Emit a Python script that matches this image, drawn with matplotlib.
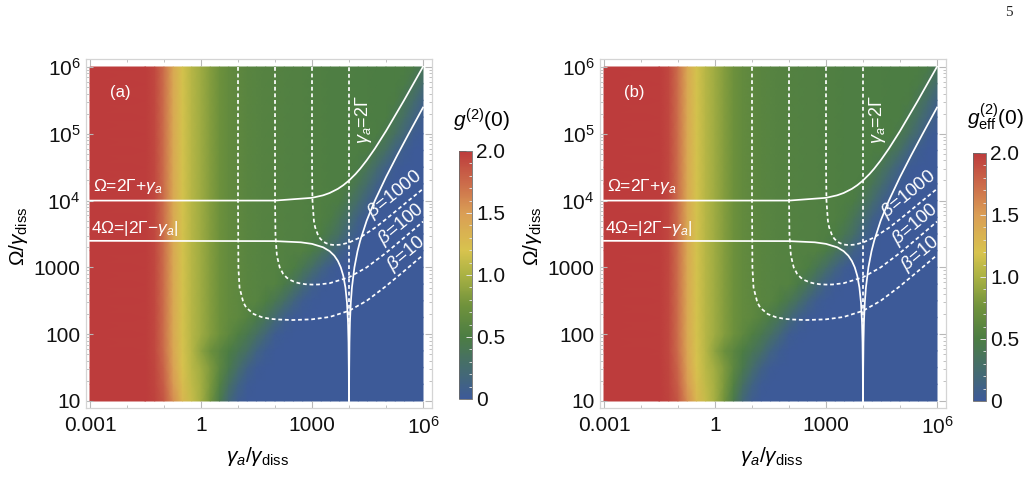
import numpy as np
import matplotlib
matplotlib.use('Agg')
import matplotlib.pyplot as plt
from matplotlib.colors import LinearSegmentedColormap, Normalize
from matplotlib.ticker import FixedLocator, NullFormatter
import matplotlib.cm as cm

plt.rcParams['font.family'] = ['Liberation Sans', 'DejaVu Sans']
plt.rcParams['mathtext.fontset'] = 'custom'
plt.rcParams['mathtext.rm'] = 'Liberation Sans'
plt.rcParams['mathtext.it'] = 'Liberation Sans:italic'
plt.rcParams['mathtext.bf'] = 'Liberation Sans:bold'

# ---------------- data ----------------
# grid nodes: log10(gamma_a/gamma_diss) and log10(Omega/gamma_diss)
ga_exp = [-3, -1.5, -1.25, -1, -0.75, -0.5, -0.25, 0, 0.25, 0.5, 0.75, 1, 1.25, 1.5, 1.75, 2,
          2.25, 2.5, 2.75, 3, 3.25, 3.5, 3.75, 4, 4.25, 4.5, 4.75, 5, 5.25, 5.5, 5.75, 6]
om_exp = [1, 1.25, 1.5, 1.75, 2, 2.25, 2.5, 2.75, 3, 3.25, 3.5, 3.75, 4, 4.25, 4.5, 4.75,
          5, 5.25, 5.5, 5.75, 6]

# g2(0) across gamma_a in the upper (green) part of the map
g2_top = [2.0, 1.99, 1.93, 1.72, 1.42, 1.18, 1.05, 0.95, 0.84, 0.74, 0.67, 0.63, 0.6, 0.58, 0.57, 0.56,
          0.55, 0.54, 0.54, 0.53, 0.53, 0.52, 0.52, 0.52, 0.51, 0.51, 0.5, 0.5, 0.5, 0.5, 0.5, 0.5]

# g2(0) values, one row per Omega node (bottom to top)
g2_rows = [
    [2.0, 2.0, 1.96, 1.85, 1.58, 1.3, 1.12, 0.97, 0.76, 0.46, 0.2, 0.05] + [0.0] * 20,
    [2.0, 2.0, 1.95, 1.81, 1.52, 1.25, 1.09, 0.97, 0.8, 0.55, 0.32, 0.14, 0.03] + [0.0] * 19,
    [2.0, 2.0, 1.94, 1.77, 1.47, 1.21, 1.07, 0.96, 0.82, 0.62, 0.44, 0.28, 0.12, 0.03, 0.005] + [0.0] * 17,
    [2.0, 1.99, 1.93, 1.73, 1.43, 1.19, 1.05, 0.88, 0.73, 0.61, 0.5, 0.40, 0.30, 0.14, 0.04, 0.005] + [0.0] * 16,
    g2_top[:10] + [0.64, 0.53, 0.43, 0.32, 0.18, 0.05, 0.01] + [0.0] * 15,
    g2_top[:12] + [0.57, 0.47, 0.37, 0.23, 0.09, 0.02] + [0.0] * 14,
    g2_top[:14] + [0.52, 0.42, 0.30, 0.16, 0.05, 0.01] + [0.0] * 12,
    g2_top[:16] + [0.47, 0.37, 0.23, 0.09, 0.02] + [0.0] * 11,
    g2_top[:17] + [0.51, 0.41, 0.29, 0.15, 0.05, 0.005] + [0.0] * 9,
    g2_top[:19] + [0.48, 0.38, 0.25, 0.11, 0.03] + [0.0] * 8,
    g2_top[:20] + [0.5, 0.40, 0.30, 0.14, 0.04, 0.005] + [0.0] * 6,
    g2_top[:21] + [0.49, 0.39, 0.26, 0.12, 0.03] + [0.0] * 6,
    g2_top[:22] + [0.49, 0.39, 0.26, 0.12, 0.03] + [0.0] * 5,
    g2_top[:23] + [0.49, 0.39, 0.26, 0.12, 0.03] + [0.0] * 4,
    g2_top[:24] + [0.48, 0.38, 0.25, 0.11, 0.03] + [0.0] * 3,
    g2_top[:25] + [0.5, 0.40, 0.30, 0.14, 0.04, 0.005, 0.0],
    g2_top[:27] + [0.43, 0.32, 0.18, 0.05, 0.01],
    g2_top[:28] + [0.41, 0.29, 0.15, 0.05],
    g2_top[:28] + [0.49, 0.39, 0.26, 0.12],
    g2_top[:29] + [0.48, 0.38, 0.25],
    g2_top[:30] + [0.48, 0.38],
]

# white guide curves (gamma_a, Omega)
upper_ga = [1e-3, 1e2, 1e3, 2e3, 3e3, 5e3, 7e3, 1e4, 1.5e4, 2e4, 3e4, 5e4, 1e5, 3e5, 1e6]
upper_om = [1e4, 1.001e4, 1.1e4, 1.2e4, 1.3e4, 1.5e4, 1.7e4, 2e4, 2.5e4, 3e4, 4e4, 6e4, 1.1e5, 3.1e5, 1.01e6]

lowL_ga = [1e-3, 1e2, 5e2, 1e3, 2e3, 3e3, 4e3, 5e3, 6e3, 7e3, 8e3, 8.8e3, 9.4e3, 9.7e3, 9.88e3, 9.96e3]
lowL_om = [2500, 2475, 2375, 2250, 2000, 1750, 1500, 1250, 1000, 750, 500, 300, 150, 75, 30, 10]
lowR_ga = [1.004e4, 1.012e4, 1.03e4, 1.06e4, 1.12e4, 1.2e4, 1.4e4, 1.7e4, 2e4, 3e4, 5e4, 1e5, 2e5, 4e5, 1e6]
lowR_om = [10, 30, 75, 150, 300, 500, 1000, 1750, 2500, 5000, 1e4, 2.25e4, 4.75e4, 9.75e4, 2.475e5]

b10_ga = [10, 10.003, 10.25, 11, 13.9, 16.7, 26.7, 44, 74, 120, 300, 1000, 3000, 1e4, 3e4, 1e5, 3e5, 1e6]
b10_om = [1e6, 1e4, 1000, 500, 300, 250, 200, 180, 170, 166, 163, 167, 181, 224, 316, 524, 870, 1530]
b100_ga = [100, 100.25, 102.9, 112.6, 134, 166, 209, 254, 356, 446, 662, 1000, 1500, 3000, 1e4, 3e4, 1e5, 3e5, 1e6]
b100_om = [1e6, 1e4, 3000, 1500, 1000, 800, 700, 650, 600, 580, 560, 553, 555, 580, 711, 1000, 1650, 2750, 4850]
b1000_ga = [1000, 1000.3, 1003, 1028, 1125, 1212, 1467, 1667, 1912, 2108, 2424, 3076, 4000, 6000, 1e4, 2e4, 5e4, 1e5, 3e5, 1e6]
b1000_om = [1e6, 1e5, 3e4, 1e4, 5000, 4000, 3000, 2700, 2500, 2400, 2300, 2200, 2160, 2190, 2357, 2810, 3910, 5270, 8700, 15000]
vline_ga = [1e4, 1e4]
vline_om = [10, 1e6]

x_ticks = [1e-3, 1, 1e3, 1e6]
x_labels = ['0.001', '1', '1000', r'$10^6$']
y_ticks = [10, 100, 1000, 1e4, 1e5, 1e6]
y_labels = ['10', '100', '1000', r'$10^4$', r'$10^5$', r'$10^6$']
cb_ticks = [0, 0.5, 1.0, 1.5, 2.0]
cb_labels = ['0', '0.5', '1.0', '1.5', '2.0']

# ---------------- figure ----------------
W, H = 1032, 496
fig = plt.figure(figsize=(W / 100, H / 100), dpi=100)

cmap = LinearSegmentedColormap.from_list('g2', [
    (0.0, '#3D5A98'), (0.125, '#456C6E'), (0.25, '#4C7D43'), (0.375, '#6F923C'),
    (0.5, '#AAB243'), (0.6, '#D8C34E'), (0.75, '#DA9E55'), (0.875, '#CB6A4A'), (1.0, '#BD3C3C')])
norm = Normalize(0, 2)


def ftext(px, py, s, **kw):
    fig.text(px / W, 1 - py / H, s, **kw)


def panel(ox, cb_top, cb_bot, tag, cb_title, cb_title_y):
    dl, dr = 90 + ox, 423 + ox
    dt, db = 67, 401
    dppx = 9.0 / (dr - dl)
    dppy = 5.0 / (db - dt)
    fl, fr, ft, fb = dl - 4, dr + 9, dt - 8, db + 7
    ax = fig.add_axes([fl / W, 1 - fb / H, (fr - fl) / W, (fb - ft) / H])
    ax.set_xscale('log')
    ax.set_yscale('log')
    ax.set_xlim(10 ** (-3 - 4 * dppx), 10 ** (6 + 9 * dppx))
    ax.set_ylim(10 ** (1 - 7 * dppy), 10 ** (6 + 8 * dppy))

    GA, OM = np.meshgrid(10.0 ** np.array(ga_exp), 10.0 ** np.array(om_exp))
    ax.pcolormesh(GA, OM, np.array(g2_rows), cmap=cmap, norm=norm,
                  shading='gouraud', rasterized=True)

    lw = 1.25
    ax.plot(upper_ga, upper_om, color='white', lw=lw)
    ax.plot(lowL_ga, lowL_om, color='white', lw=lw)
    ax.plot(lowR_ga, lowR_om, color='white', lw=lw)
    dash = (0, (2.2, 1.6))
    for gx, oy in ((b10_ga, b10_om), (b100_ga, b100_om), (b1000_ga, b1000_om), (vline_ga, vline_om)):
        ax.plot(gx, oy, color='white', lw=lw, linestyle=dash)

    for sp in ax.spines.values():
        sp.set_color('#d4d4d4')
        sp.set_linewidth(0.9)
    ax.set_xticks(x_ticks, x_labels)
    ax.set_yticks(y_ticks, y_labels)
    ax.xaxis.set_minor_locator(FixedLocator([1e-2, 1e-1, 10, 100, 1e4, 1e5]))
    ymin = [m * 10 ** e for e in range(1, 6) for m in range(2, 10)]
    ax.yaxis.set_minor_locator(FixedLocator(ymin))
    ax.xaxis.set_minor_formatter(NullFormatter())
    ax.yaxis.set_minor_formatter(NullFormatter())
    ax.tick_params(which='both', direction='in', color='#b8b8b8', top=True, right=True,
                   labelsize=15, labelcolor='#111111')
    ax.tick_params(which='major', length=5, width=0.8)
    ax.tick_params(which='minor', length=2.5, width=0.6)
    ax.tick_params(axis='x', pad=6)
    ax.tick_params(axis='y', pad=4)

    # axis labels
    ftext(257 + ox, 457, r'$\gamma_a/\gamma_{\rm diss}$', fontsize=15, ha='center', va='center')
    ftext(18 + ox, 236, r'$\Omega/\gamma_{\rm diss}$', fontsize=15, ha='center', va='center', rotation=90)

    # in-plot labels
    ftext(120 + ox, 93, tag, fontsize=12, color='white', ha='center', va='center')
    ftext(93 + ox, 187, r'Ω=2Γ+$\gamma_a$', fontsize=12.5, color='white', ha='left', va='center')
    ftext(91 + ox, 229, r'4Ω=|2Γ−$\gamma_a$|', fontsize=12.5, color='white', ha='left', va='center')
    ftext(364 + ox, 120, r'$\gamma_a$=2Γ', fontsize=13, color='white', ha='center', va='center', rotation=90)
    ftext(395 + ox, 194, r'$\beta$=1000', fontsize=13.5, color='white', ha='center', va='center',
          rotation=39, rotation_mode='anchor')
    ftext(401 + ox, 224, r'$\beta$=100', fontsize=13.5, color='white', ha='center', va='center',
          rotation=40, rotation_mode='anchor')
    ftext(406 + ox, 254, r'$\beta$=10', fontsize=13.5, color='white', ha='center', va='center',
          rotation=40, rotation_mode='anchor')

    # colorbar
    cl, cr = 459 + ox, 472 + ox
    cax = fig.add_axes([cl / W, 1 - cb_bot / H, (cr - cl) / W, (cb_bot - cb_top) / H])
    sm = cm.ScalarMappable(norm=norm, cmap=cmap)
    cb = fig.colorbar(sm, cax=cax)
    cb.set_ticks(cb_ticks)
    cb.set_ticklabels(cb_labels)
    cb.outline.set_edgecolor('#6a6a6a')
    cb.outline.set_linewidth(0.6)
    cax.yaxis.set_minor_locator(FixedLocator([v / 10 for v in range(1, 20)]))
    cax.tick_params(which='major', direction='in', length=4, color='#e6e6e6', width=0.7,
                    labelsize=15, pad=3, labelcolor='#111111')
    cax.tick_params(which='minor', direction='in', length=2, color='#e6e6e6', width=0.6)
    ftext(482 + ox, cb_title_y, cb_title, fontsize=15, ha='center', va='center')
    return ax


panel(0, 151, 399, '(a)', r'$g^{(2)}$(0)', 120)
panel(514, 153, 401, '(b)', r'$g^{(2)}_{\rm eff}$(0)', 117)

ftext(1009, 12, '5', fontsize=11, family='Liberation Serif', ha='center', va='center', color='#222222')

fig.savefig('out.png', dpi=100)
